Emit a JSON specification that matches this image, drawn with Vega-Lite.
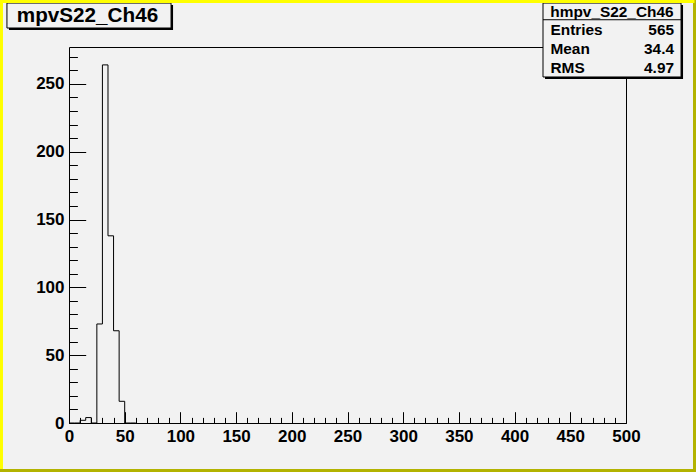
{
  "$schema": "https://vega.github.io/schema/vega-lite/v6.json",
  "width": 557,
  "height": 376,
  "autosize": {"type": "none"},
  "padding": {"left": 69, "top": 47, "right": 70, "bottom": 49},
  "background": "#f2f2f2",
  "config": {
    "view": {"stroke": null, "fill": "#f2f2f2"},
    "axis": {"grid": false, "title": null, "domainColor": "black", "tickColor": "black", "labelColor": "black", "labelFont": "Liberation Sans", "labelFontWeight": "bold", "labelFontSize": 17, "labelFlush": false, "labelOverlap": false, "domainWidth": 1, "tickWidth": 1}
  },
  "datasets": {
    "hist": [
      {"bin_start": 0, "entries": 0},
      {"bin_start": 5, "entries": 0},
      {"bin_start": 10, "entries": 2},
      {"bin_start": 15, "entries": 4},
      {"bin_start": 20, "entries": 0},
      {"bin_start": 25, "entries": 73},
      {"bin_start": 30, "entries": 264},
      {"bin_start": 35, "entries": 138},
      {"bin_start": 40, "entries": 68},
      {"bin_start": 45, "entries": 16},
      {"bin_start": 50, "entries": 0},
      {"bin_start": 55, "entries": 0},
      {"bin_start": 60, "entries": 0}
    ],
    "one": [{}]
  },
  "resolve": {"axis": {"x": "independent", "y": "independent"}},
  "layer": [
    {
      "data": {"name": "hist"},
      "mark": {"type": "line", "interpolate": "step-after", "color": "black", "strokeWidth": 1},
      "encoding": {
        "x": {"field": "bin_start", "type": "quantitative", "scale": {"domain": [0, 500], "nice": false, "zero": false},
              "axis": {"orient": "bottom", "values": [0, 50, 100, 150, 200, 250, 300, 350, 400, 450, 500], "ticks": false, "domain": true, "labelPadding": 5}},
        "y": {"field": "entries", "type": "quantitative", "scale": {"domain": [0, 277.2], "nice": false, "zero": false},
              "axis": {"orient": "left", "values": [0, 50, 100, 150, 200, 250], "ticks": false, "domain": true, "labelPadding": 5}}
      }
    },
    {
      "data": {"name": "one"},
      "mark": {"type": "rect", "color": "black", "clip": false},
      "encoding": {
        "x": {"datum": 427.3, "type": "quantitative",
              "axis": {"orient": "bottom", "values": [0, 50, 100, 150, 200, 250, 300, 350, 400, 450, 500], "ticks": true, "tickSize": -11.3, "labels": false, "domain": false}},
        "x2": {"datum": 551.2},
        "y": {"datum": 308.2, "type": "quantitative",
              "axis": {"orient": "left", "values": [0, 50, 100, 150, 200, 250], "ticks": true, "tickSize": -16.7, "labels": false, "domain": false}},
        "y2": {"datum": 253.6}
      }
    },
    {
      "data": {"name": "one"},
      "mark": {"type": "rect", "fill": "#f2f2f2", "stroke": "black", "strokeWidth": 1, "clip": false},
      "encoding": {
        "x": {"datum": 425.5, "type": "quantitative",
              "axis": {"orient": "bottom", "values": [0, 10, 20, 30, 40, 50, 60, 70, 80, 90, 100, 110, 120, 130, 140, 150, 160, 170, 180, 190, 200, 210, 220, 230, 240, 250, 260, 270, 280, 290, 300, 310, 320, 330, 340, 350, 360, 370, 380, 390, 400, 410, 420, 430, 440, 450, 460, 470, 480, 490, 500], "ticks": true, "tickSize": -5.6, "labels": false, "domain": false}},
        "x2": {"datum": 549.4},
        "y": {"datum": 309.6, "type": "quantitative",
              "axis": {"orient": "left", "values": [0, 10, 20, 30, 40, 50, 60, 70, 80, 90, 100, 110, 120, 130, 140, 150, 160, 170, 180, 190, 200, 210, 220, 230, 240, 250, 260, 270], "ticks": true, "tickSize": -8.4, "labels": false, "domain": false}},
        "y2": {"datum": 255.1}
      }
    },
    {
      "data": {"name": "one"},
      "mark": {"type": "rule", "color": "black", "strokeWidth": 1, "clip": false},
      "encoding": {
        "x": {"datum": 425.5, "type": "quantitative",
              "axis": {"orient": "top", "ticks": false, "labels": false, "domain": true}},
        "x2": {"datum": 549.4},
        "y": {"datum": 297.3, "type": "quantitative",
              "axis": {"orient": "right", "ticks": false, "labels": false, "domain": true}}
      }
    },
    {
      "data": {"name": "one"},
      "mark": {"type": "rect", "color": "black", "clip": false},
      "encoding": {
        "x": {"datum": -53.9, "type": "quantitative", "axis": null},
        "x2": {"datum": 93.4},
        "y": {"datum": 308.2, "type": "quantitative", "axis": null},
        "y2": {"datum": 289.7}
      }
    },
    {
      "data": {"name": "one"},
      "mark": {"type": "rect", "fill": "#f2f2f2", "stroke": "black", "strokeWidth": 1, "clip": false},
      "encoding": {
        "x": {"datum": -55.7, "type": "quantitative", "axis": null},
        "x2": {"datum": 91.6},
        "y": {"datum": 309.6, "type": "quantitative", "axis": null},
        "y2": {"datum": 291.2}
      }
    },
    {
      "data": {"name": "one"},
      "mark": {"type": "rule", "color": "#b3b300", "strokeWidth": 3, "clip": false},
      "encoding": {
        "x": {"datum": 561.5, "type": "quantitative", "axis": null},
        "y": {"datum": 311.85, "type": "quantitative", "axis": null},
        "y2": {"datum": -36.1}
      }
    },
    {
      "data": {"name": "one"},
      "mark": {"type": "rule", "color": "#b3b300", "strokeWidth": 3, "clip": false},
      "encoding": {
        "x": {"datum": -61.94, "type": "quantitative", "axis": null},
        "x2": {"datum": 562.8},
        "y": {"datum": -35.0, "type": "quantitative", "axis": null}
      }
    },
    {
      "data": {"name": "one"},
      "mark": {"type": "rule", "color": "#ffff00", "strokeWidth": 3, "clip": false},
      "encoding": {
        "x": {"datum": -60.6, "type": "quantitative", "axis": null},
        "y": {"datum": 311.85, "type": "quantitative", "axis": null},
        "y2": {"datum": -33.9}
      }
    },
    {
      "data": {"name": "one"},
      "mark": {"type": "rule", "color": "#ffff00", "strokeWidth": 3, "clip": false},
      "encoding": {
        "x": {"datum": -61.94, "type": "quantitative", "axis": null},
        "x2": {"datum": 561.5},
        "y": {"datum": 310.75, "type": "quantitative", "axis": null}
      }
    },
    {
      "data": {"name": "one"},
      "mark": {"type": "text", "text": "mpvS22_Ch46", "align": "center", "baseline": "middle", "font": "Liberation Sans", "fontWeight": "bold", "fontSize": 20.7, "color": "black", "clip": false},
      "encoding": {
        "x": {"datum": 16.6, "type": "quantitative", "axis": null},
        "y": {"datum": 299.7, "type": "quantitative", "axis": null}
      }
    },
    {
      "data": {"name": "one"},
      "mark": {"type": "text", "text": "hmpv_S22_Ch46", "align": "center", "baseline": "middle", "font": "Liberation Sans", "fontWeight": "bold", "fontSize": 15.4, "color": "black", "clip": false},
      "encoding": {
        "x": {"datum": 487.4, "type": "quantitative", "axis": null},
        "y": {"datum": 303.0, "type": "quantitative", "axis": null}
      }
    },
    {
      "data": {"name": "one"},
      "mark": {"type": "text", "text": "Entries", "align": "left", "baseline": "middle", "font": "Liberation Sans", "fontWeight": "bold", "fontSize": 15.4, "color": "black", "clip": false},
      "encoding": {
        "x": {"datum": 432.2, "type": "quantitative", "axis": null},
        "y": {"datum": 289.7, "type": "quantitative", "axis": null}
      }
    },
    {
      "data": {"name": "one"},
      "mark": {"type": "text", "text": "565", "align": "right", "baseline": "middle", "font": "Liberation Sans", "fontWeight": "bold", "fontSize": 15.4, "color": "black", "clip": false},
      "encoding": {
        "x": {"datum": 543.1, "type": "quantitative", "axis": null},
        "y": {"datum": 289.7, "type": "quantitative", "axis": null}
      }
    },
    {
      "data": {"name": "one"},
      "mark": {"type": "text", "text": "Mean", "align": "left", "baseline": "middle", "font": "Liberation Sans", "fontWeight": "bold", "fontSize": 15.4, "color": "black", "clip": false},
      "encoding": {
        "x": {"datum": 432.2, "type": "quantitative", "axis": null},
        "y": {"datum": 275.4, "type": "quantitative", "axis": null}
      }
    },
    {
      "data": {"name": "one"},
      "mark": {"type": "text", "text": "34.4", "align": "right", "baseline": "middle", "font": "Liberation Sans", "fontWeight": "bold", "fontSize": 15.4, "color": "black", "clip": false},
      "encoding": {
        "x": {"datum": 543.1, "type": "quantitative", "axis": null},
        "y": {"datum": 275.4, "type": "quantitative", "axis": null}
      }
    },
    {
      "data": {"name": "one"},
      "mark": {"type": "text", "text": "RMS", "align": "left", "baseline": "middle", "font": "Liberation Sans", "fontWeight": "bold", "fontSize": 15.4, "color": "black", "clip": false},
      "encoding": {
        "x": {"datum": 432.2, "type": "quantitative", "axis": null},
        "y": {"datum": 261.4, "type": "quantitative", "axis": null}
      }
    },
    {
      "data": {"name": "one"},
      "mark": {"type": "text", "text": "4.97", "align": "right", "baseline": "middle", "font": "Liberation Sans", "fontWeight": "bold", "fontSize": 15.4, "color": "black", "clip": false},
      "encoding": {
        "x": {"datum": 543.1, "type": "quantitative", "axis": null},
        "y": {"datum": 261.4, "type": "quantitative", "axis": null}
      }
    }
  ]
}
